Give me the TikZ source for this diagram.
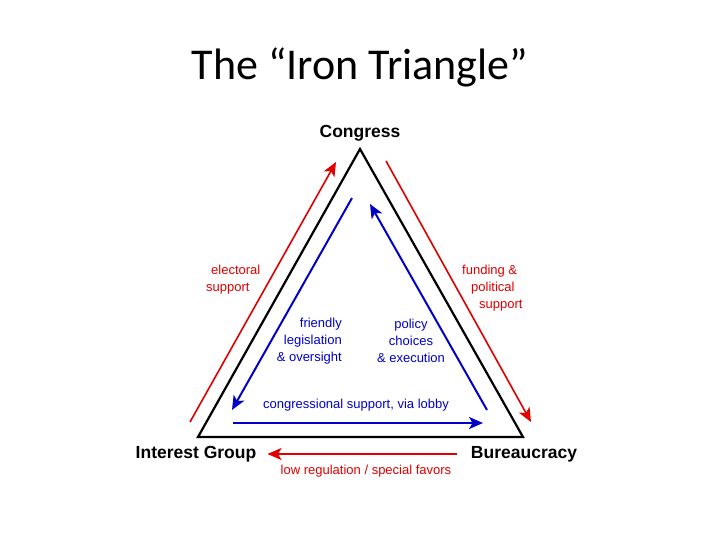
\documentclass[tikz,border=0pt]{standalone}
\usepackage{fontspec}
\setmainfont{Liberation Sans}
\newfontfamily\titlefont{Carlito}
\usetikzlibrary{positioning,arrows.meta}
\definecolor{itred}{HTML}{E00000}
\definecolor{itblue}{HTML}{0000C8}
\tikzset{
  actor/.style ={font=\fontsize{17.5}{19}\selectfont\bfseries, text=black, inner sep=1pt},
  lblr/.style  ={font=\fontsize{13}{17}\selectfont, text=itred, align=left, inner sep=1pt},
  lblb/.style  ={lblr, text=itblue},
  side/.style  ={line width=2.2pt, draw=black, line join=miter},
  flr/.style   ={-{Stealth[length=14pt,width=12pt,inset=3.5pt]}, line width=1.6pt, draw=itred},
  flb/.style   ={flr, line width=2pt, draw=itblue}
}
\begin{document}
\begin{tikzpicture}[x=1pt,y=-1pt]
  \useasboundingbox (0,0) rectangle (720,540);
  \node[font=\titlefont\fontsize{44}{46}\selectfont] (title) at (360,67) {The “Iron Triangle”};
  % the triangle
  \coordinate (tp) at (360,149);
  \coordinate (lf) at (198,437);
  \coordinate (rt) at (523,437);
  \draw[side] (tp) -- (lf) -- (rt) -- cycle;
  \node[actor] (congress) at (360,133) {Congress};
  \node[actor] (igroup) at (196,454) {Interest Group};
  \node[actor] (bureau) at (524,454) {Bureaucracy};
  % outer (red) flows
  \coordinate (es0) at (190,422); \coordinate (es1) at (336,162);
  \coordinate (fs0) at (386,161); \coordinate (fs1) at (531,422);
  \draw[flr] (es0) -- (es1);
  \draw[flr] (fs0) -- (fs1);
  \draw[flr,shorten <=13pt,shorten >=10pt] (bureau.west) -- (igroup.east);
  % inner (blue) flows
  \coordinate (fl0) at (352,198); \coordinate (fl1) at (232,410);
  \coordinate (pc0) at (487,410); \coordinate (pc1) at (370,204);
  \coordinate (cs0) at (233,423); \coordinate (cs1) at (483,423);
  \draw[flb] (fl0) -- (fl1);
  \draw[flb] (pc0) -- (pc1);
  \draw[flb] (cs0) -- (cs1);
  % labels
  \node[lblr,anchor=west] (elect) at (205,280) {\hspace{5pt}electoral\\support};
  \node[lblr,anchor=west] (fund) at (461,288) {funding \&\\\hspace{9pt}political\\\hspace{17pt}support};
  \node[lblr] (favors) at (366,471) {low regulation / special favors};
  \node[lblb,align=right,anchor=east] (friend) at (343,341) {friendly\\legislation\\\& oversight};
  \node[lblb,align=center] (policy) at (411,341) {policy\\choices\\\& execution};
  \node[lblb] (lobby) at (356,405) {congressional support, via lobby};
\end{tikzpicture}
\end{document}
